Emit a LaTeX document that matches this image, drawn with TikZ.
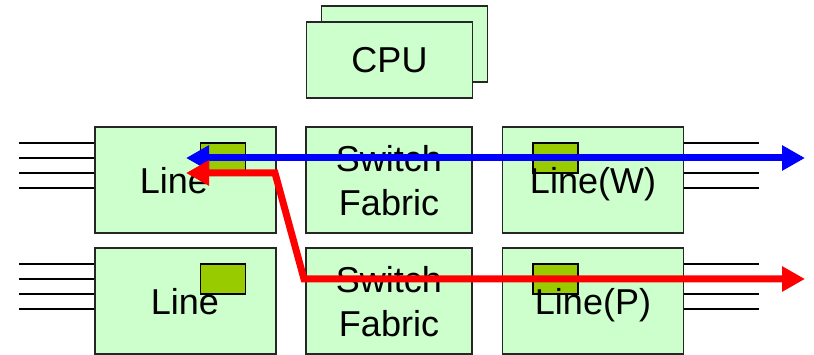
\documentclass[tikz,border=0pt]{standalone}
\usepackage{fontspec}
\setmainfont{Liberation Sans}
\usetikzlibrary{arrows.meta}
\definecolor{boxfill}{HTML}{CCFFCC}
\definecolor{portfill}{HTML}{99CC00}
\definecolor{flowblue}{HTML}{0000FF}
\definecolor{flowred}{HTML}{FF0000}
\begin{document}
\begin{tikzpicture}[x=1pt,y=-1pt,
  card/.style={draw=black!85,line width=1.6pt,fill=boxfill,minimum width=181pt,minimum height=106pt,inner sep=0pt},
  fabric/.style={card,minimum width=166pt},
  cpubox/.style={draw=black!85,line width=1.6pt,fill=boxfill,minimum width=166pt,minimum height=76pt,inner sep=0pt},
  port/.style={draw=black,line width=1.6pt,fill=portfill,minimum width=45pt,minimum height=30pt,inner sep=0pt},
  lbl/.style={font=\fontsize{36}{44}\selectfont,inner sep=0pt,anchor=base},
  wire/.style={draw=black,line width=1.6pt},
  flow/.style={line width=7pt,line join=miter,arrows={Triangle[length=23pt,width=24pt]-Triangle[length=23pt,width=24pt]}}
]
\useasboundingbox (0,0) rectangle (814,355);
% CPU
\node[cpubox] (cpub) at (404.5,44) {};
\node[cpubox] (cpuf) at (389.5,60) {};
\node[lbl] (cputxt) at (389.5,73) {CPU};
% cards
\node[card] (l1) at (185.5,180) {};
\node[card] (l2) at (185.5,301) {};
\node[fabric] (s1) at (389,180) {};
\node[fabric] (s2) at (389,301) {};
\node[card] (r1) at (593,180) {};
\node[card] (r2) at (593,301) {};
% ports
\node[port] (p1) at (223,158) {};
\node[port] (p2) at (223,279) {};
\node[port] (p3) at (555.5,158) {};
\node[port] (p4) at (555.5,279) {};
% wires
\foreach \yy [count=\i] in {143,158,173,188} {
  \coordinate (wl\i) at (19,\yy);
  \draw[wire] (wl\i) -- (wl\i -| l1.west);
  \coordinate (wr\i) at (759,\yy);
  \draw[wire] (wr\i -| r1.east) -- (wr\i);
}
\foreach \yy [count=\i] in {264,279,294,309} {
  \coordinate (vl\i) at (19,\yy);
  \draw[wire] (vl\i) -- (vl\i -| l2.west);
  \coordinate (vr\i) at (759,\yy);
  \draw[wire] (vr\i -| r2.east) -- (vr\i);
}
% labels
\node[lbl] (t1) at (174,194) {Line};
\node[lbl] (t2) at (185,315) {Line};
\node[lbl] (t3a) at (389,172) {Switch};
\node[lbl] (t3b) at (389,216) {Fabric};
\node[lbl] (t4a) at (389,293) {Switch};
\node[lbl] (t4b) at (389,337) {Fabric};
\node[lbl] (t5) at (593,194) {Line(W)};
\node[lbl] (t6) at (593,315) {Line(P)};
% flows
\coordinate (bl) at (186,158);
\coordinate (br) at (805,158);
\coordinate (rl) at (186,173);
\coordinate (rc1) at (275,173);
\coordinate (rc2) at (304,279);
\coordinate (rr) at (805,279);
\draw[flow,draw=flowblue] (bl) -- (br);
\draw[flow,draw=flowred] (rl) -- (rc1) -- (rc2) -- (rr);
\end{tikzpicture}
\end{document}
